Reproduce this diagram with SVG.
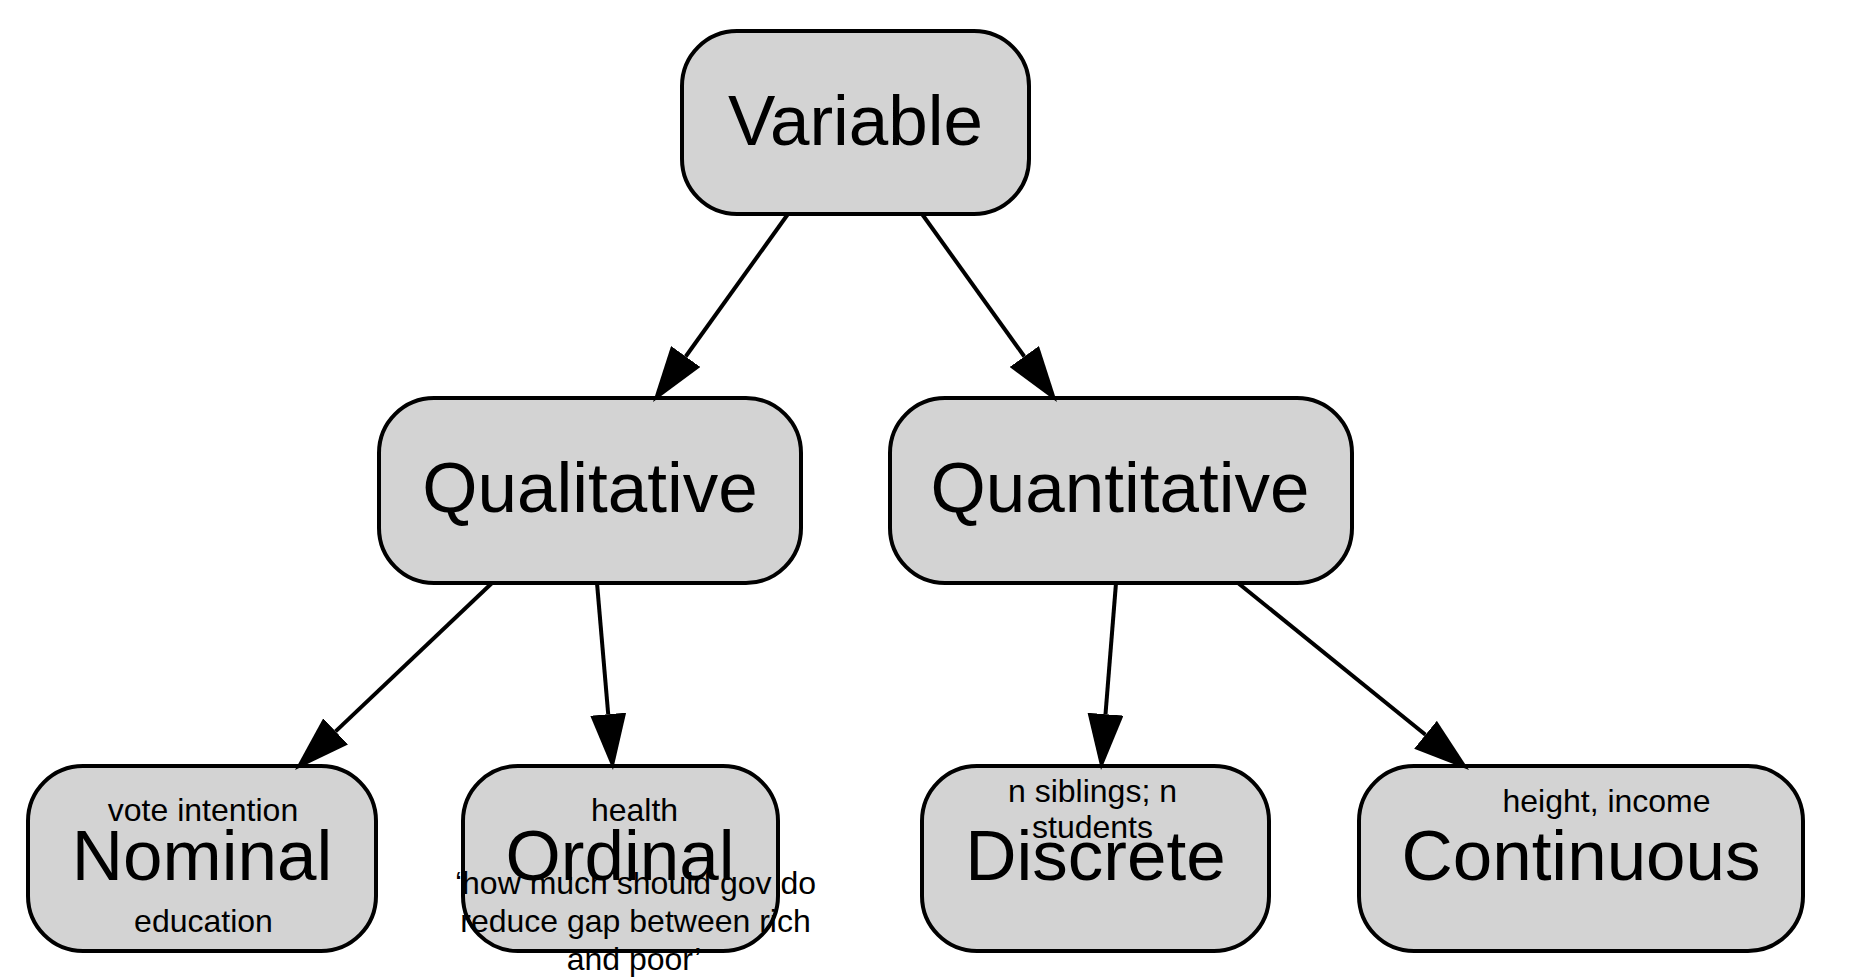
<svg xmlns="http://www.w3.org/2000/svg" width="1856" height="978" viewBox="0 0 1856 978">
<style>
.box{fill:#d3d3d3;stroke:#000;stroke-width:4}
.big{font-family:"Liberation Sans",Arial,sans-serif;font-size:71px;fill:#000;text-anchor:middle}
.small{font-family:"Liberation Sans",Arial,sans-serif;font-size:32px;fill:#000;text-anchor:middle}
.edge{stroke:#000;stroke-width:4;fill:none}
</style>
<defs>
<marker id="arrow" markerUnits="userSpaceOnUse" viewBox="0 0 56 36" refX="0" refY="18" markerWidth="56" markerHeight="36" orient="auto">
<path d="M0,0 L56,18 L0,36 z" fill="#000"/>
</marker>
</defs>
<rect width="1856" height="978" fill="#fff"/>
<g id="node-variable">
<rect class="box" x="682" y="31" width="347" height="183" rx="55" ry="55"/>
<text class="big" x="855.5" y="145">Variable</text>
</g>
<g id="node-qualitative">
<rect class="box" x="379" y="398" width="422" height="185" rx="55" ry="55"/>
<text class="big" x="590" y="512">Qualitative</text>
</g>
<g id="node-quantitative">
<rect class="box" x="890" y="398" width="462" height="185" rx="55" ry="55"/>
<text class="big" x="1120" y="512">Quantitative</text>
</g>
<g id="node-nominal">
<rect class="box" x="28" y="766" width="348" height="185" rx="55" ry="55"/>
<text class="small" x="203" y="821">vote intention</text>
<text class="big" x="202" y="880">Nominal</text>
<text class="small" x="203.5" y="932">education</text>
</g>
<g id="node-ordinal">
<rect class="box" x="463" y="766" width="315" height="185" rx="55" ry="55"/>
<text class="small" x="634.5" y="821">health</text>
<text class="small" x="635.5" y="894">‘how much should gov do</text>
<text class="small" x="635.5" y="932">reduce gap between rich</text>
<text class="small" x="634" y="970">and poor’</text>
<rect x="507" y="826" width="228" height="46" fill="#d3d3d3"/>
<text class="big" x="620" y="880">Ordinal</text>
</g>
<g id="node-discrete">
<rect class="box" x="922" y="766" width="347" height="185" rx="55" ry="55"/>
<text class="big" x="1095.5" y="880">Discrete</text>
<text class="small" x="1092.5" y="802">n siblings; n</text>
<text class="small" x="1092.5" y="838">students</text>
</g>
<g id="node-continuous">
<rect class="box" x="1359" y="766" width="444" height="185" rx="55" ry="55"/>
<text class="small" x="1606.5" y="812">height, income</text>
<text class="big" x="1581" y="880">Continuous</text>
</g>
<g id="connectors">
<line class="edge" x1="788" y1="214" x2="685.7" y2="356.5" marker-end="url(#arrow)"/>
<line class="edge" x1="922" y1="214" x2="1024.3" y2="356.5" marker-end="url(#arrow)"/>
<line class="edge" x1="492" y1="583" x2="335.6" y2="731.4" marker-end="url(#arrow)"/>
<line class="edge" x1="597" y1="583" x2="608.2" y2="714.2" marker-end="url(#arrow)"/>
<line class="edge" x1="1116" y1="583" x2="1105.5" y2="714.2" marker-end="url(#arrow)"/>
<line class="edge" x1="1238" y1="583" x2="1425.5" y2="734.8" marker-end="url(#arrow)"/>
</g>
</svg>
